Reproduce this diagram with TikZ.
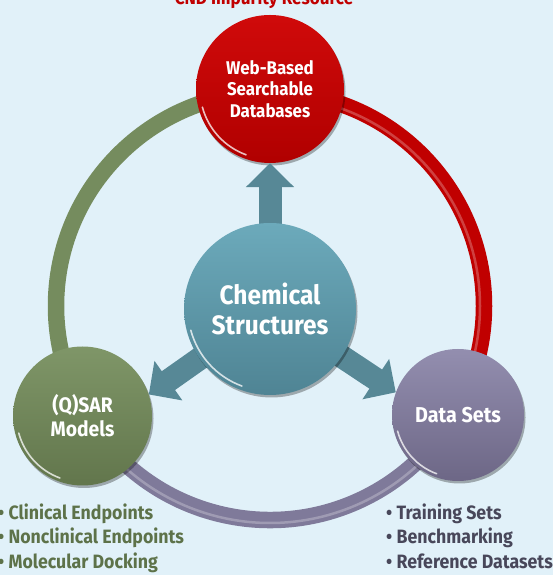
\documentclass[tikz,border=0pt]{standalone}
\usepackage{fontspec}
\setmainfont[FakeStretch=0.92]{Fira Sans}
\usetikzlibrary{arrows.meta,shadows}
\definecolor{bg}{HTML}{E1F1F9}
\definecolor{redA}{HTML}{D00A0A}
\definecolor{redB}{HTML}{B00000}
\definecolor{redR}{HTML}{C00000}
\definecolor{tealA}{HTML}{6CAABB}
\definecolor{tealB}{HTML}{4F8494}
\definecolor{greenA}{HTML}{7F9668}
\definecolor{greenB}{HTML}{62764C}
\definecolor{greenR}{HTML}{758C5E}
\definecolor{purA}{HTML}{938EAF}
\definecolor{purB}{HTML}{6D6786}
\definecolor{purR}{HTML}{7F7A9A}
\definecolor{arrowc}{HTML}{578896}
\definecolor{greentxt}{HTML}{5D7249}
\definecolor{slatetxt}{HTML}{48475A}
\tikzset{
  ball/.style={circle, inner sep=0pt, align=center, text=white,
    drop shadow={shadow xshift=1.5pt, shadow yshift=-2.5pt, opacity=0.3, fill=black}},
  ringarc/.style={line width=16.5pt},
  ringhl/.style={line width=2.5pt, white, opacity=0.25},
  bigarrow/.style={arrowc, line width=23pt, -{Triangle[width=47pt,length=24pt]}},
  rimhl/.style={white, line width=1.6pt, opacity=0.75, line cap=round},
  bullets/.style={anchor=base west, align=left, inner sep=0pt,
    font=\bfseries\fontsize{19.3}{24.5}\selectfont},
}
\begin{document}
\begin{tikzpicture}[x=1pt,y=1pt]
\fill[bg] (0,0) rectangle (553,575);
\useasboundingbox (0,0) rectangle (553,575);
% title (cut off at the top)
\node[anchor=base, text=redR, font=\bfseries\fontsize{18.6}{18.6}\selectfont, inner sep=0pt] (title) at (264,570.5) {CND Impurity Resource};
% ring
\coordinate (R) at (270,269);
\draw[ringarc, redR] (R) ++(90:214) arc[start angle=90, end angle=-30, radius=214];
\draw[ringarc, greenR] (R) ++(90:214) arc[start angle=90, end angle=210, radius=214];
\draw[ringarc, purR] (R) ++(210:214) arc[start angle=210, end angle=330, radius=214];
\draw[ringhl] (R) ++(80:210) arc[start angle=80, end angle=-20, radius=210];
\draw[ringhl] (R) ++(220:217) arc[start angle=220, end angle=320, radius=217];
% circle nodes
\node[ball, minimum size=148pt, top color=redA, bottom color=redB,
  font=\bfseries\fontsize{18.4}{21.5}\selectfont] (web) at (270,486) {Web-Based\\Searchable\\Databases};
\node[ball, minimum size=139pt, top color=greenA, bottom color=greenB,
  font=\bfseries\fontsize{21}{24}\selectfont] (qsar) at (82.5,159) {(Q)SAR\\Models};
\node[ball, minimum size=132pt, top color=purA, bottom color=purB,
  font=\bfseries\fontsize{21.5}{24}\selectfont] (ds) at (458,160) {Data Sets};
% arrows (drawn before the centre circle so their tails hide under it)
\draw[bigarrow] (270,266) -- (web.-90);
\draw[bigarrow] (270,266) -- (qsar.18);
\draw[bigarrow] (270,266) -- (ds.160);
\node[ball, minimum size=172pt, top color=tealA, bottom color=tealB,
  font=\bfseries\fontsize{26.6}{30}\selectfont] (cc) at (270,266) {Chemical\\Structures};
% rim highlights
\draw[rimhl] (web.center) ++(195:70) arc[start angle=195, end angle=250, radius=70];
\draw[rimhl] (qsar.center) ++(195:66) arc[start angle=195, end angle=250, radius=66];
\draw[rimhl] (ds.center) ++(195:62.5) arc[start angle=195, end angle=250, radius=62.5];
\draw[rimhl] (cc.center) ++(195:82) arc[start angle=195, end angle=250, radius=82];
% bullet lists (base anchor = baseline of the last line)
\node[bullets, text=greentxt] (lefttxt) at (-2,6.5) {• Clinical Endpoints\\• Nonclinical Endpoints\\• Molecular Docking};
\node[bullets, text=slatetxt] (righttxt) at (386,6.5) {• Training Sets\\• Benchmarking\\• Reference Datasets};
\end{tikzpicture}
\end{document}
